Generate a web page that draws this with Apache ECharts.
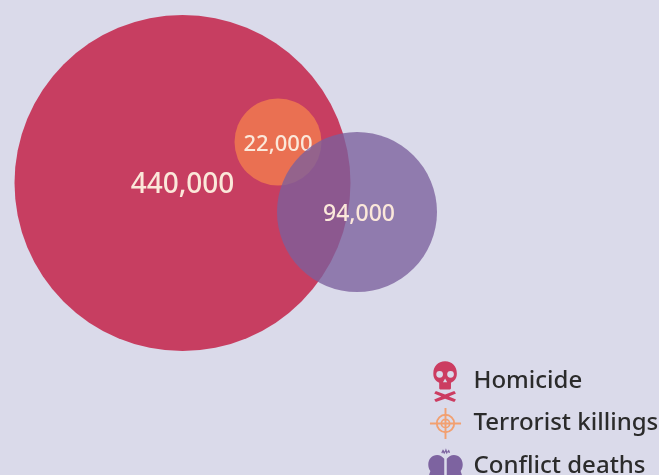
<!DOCTYPE html>
<html><head><meta charset="utf-8">
<style>html,body{margin:0;padding:0;background:#dadaea;overflow:hidden}#c{width:659px;height:475px}</style>
<script src="https://cdn.jsdelivr.net/npm/echarts@6/dist/echarts.min.js"></script></head>
<body><div id="c"></div>
<script>
const categories = ['Homicide', 'Terrorist killings', 'Conflict deaths'];
const deaths = [440000, 22000, 94000];
const axisX = [182.5, 278, 357];
const axisY = [183, 142, 212];
const diameters = [336, 87, 160];
const fills = ['#c73e61', '#ea7052', 'rgba(123,96,156,0.78)'];
const iconFills = ['#cc3c61', '#f2a071', '#7d63a0'];
const labelSizes = [28, 22, 23];
const labelOffsets = [[0, 2], [0, 3], [2, 2]];

const ring = (c, r, d) => {
  const s = d > 0 ? 1 : 0;
  return `M${c - r} ${c}A${r} ${r} 0 1 ${s} ${c + r} ${c}A${r} ${r} 0 1 ${s} ${c - r} ${c}Z`;
};
const box = 'M0 0M100 100';
const skull = box + 'M49 3C32 3 21 15 21 32C21 43 26 50 35 54L35 67C35 69 37 70 39 70L59 70C61 70 63 69 63 67L63 54C72 50 77 43 77 32C77 15 66 3 49 3Z'
  + 'M36 26A8 8 0 0 1 36 42A8 8 0 0 1 36 26Z'
  + 'M62 26A8 8 0 0 1 62 42A8 8 0 0 1 62 26Z'
  + 'M49 44L54 53L44 53Z'
  + 'M27 74L49 82L71 74L75 80L58 87L75 94L71 100L49 92L27 100L23 94L40 87L23 80Z';
const target = box + ring(50, 23, 1) + ring(50, 18.5, -1) + ring(50, 12, 1) + ring(50, 8, -1)
  + 'M47.7 13L52.3 13L52.3 87L47.7 87Z' + 'M13 47.7L87 47.7L87 52.3L13 52.3Z';
const heads = box + 'M30 24C18 24 9 34 9 46C9 52 10 57 14 62L10 74L24 90L47 90L47 33C42 28 37 24 30 24Z'
  + 'M70 24C82 24 91 34 91 46C91 52 90 57 86 62L90 74L76 90L53 90L53 33C58 28 63 24 70 24Z'
  + 'M40 18L44 10L48 16L51 8L54 16L58 11L61 18L58 19L56 16L53 22L50 16L47 22L44 17L42 20Z';
const icons = [skull, target, heads];

const chart = echarts.init(document.getElementById('c'), null, {renderer: 'canvas'});
chart.setOption({
  animation: false,
  backgroundColor: '#dadaea',
  grid: {left: 0, right: 0, top: 0, bottom: 0},
  xAxis: {type: 'value', min: 0, max: 659, show: false},
  yAxis: {type: 'value', min: 0, max: 475, inverse: true, show: false},
  legend: {
    orient: 'vertical', left: 419.5, top: 355, height: 200,
    itemWidth: 46, itemHeight: 42, itemGap: 0.5,
    textStyle: {fontFamily: 'Noto Sans', fontSize: 24, color: '#2b2b2b', fontWeight: 500},
    selectedMode: false,
    data: categories.map((n, i) => ({name: n, icon: 'path://' + icons[i], itemStyle: {color: iconFills[i], opacity: 1}}))
  },
  series: categories.map((n, i) => ({
    name: n, type: 'scatter', clip: false, silent: true, z: 2 + i,
    symbol: 'circle',
    symbolSize: diameters[i],
    itemStyle: {color: fills[i], opacity: 1},
    label: {
      show: true, position: 'inside', offset: labelOffsets[i],
      formatter: p => p.value[2].toLocaleString('en-US'),
      fontFamily: 'Noto Sans', fontSize: labelSizes[i], fontWeight: 500, color: '#fbe8da'
    },
    data: [[axisX[i], axisY[i], deaths[i]]]
  }))
});
</script></body></html>
